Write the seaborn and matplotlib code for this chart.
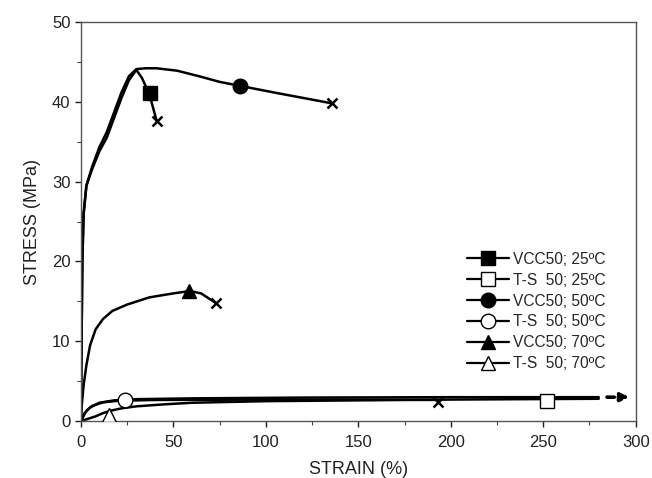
import matplotlib
matplotlib.use("Agg")
import matplotlib.pyplot as plt
from matplotlib.lines import Line2D
from matplotlib.ticker import MultipleLocator
import seaborn as sns
import pandas as pd

# ---- data ----
vcc25_strain = [0, 0.4, 0.8, 1.5, 3, 6, 10, 14, 18, 22, 26, 30, 33, 37, 41]
vcc25_stress = [0, 10, 20, 26, 29.5, 31.5, 33.8, 35.5, 38, 40.5, 42.7, 44, 43, 41, 37.6]

vcc50_strain = [0, 0.4, 0.8, 1.5, 3, 6, 10, 14, 18, 22, 26, 30, 35, 41, 52, 64, 75, 86, 106, 136]
vcc50_stress = [0, 10, 20, 26, 29.5, 31.8, 34.3, 36.2, 38.7, 41.2, 43.2, 44.1, 44.2, 44.2, 43.9, 43.2, 42.5, 42, 41.1, 39.8]

vcc70_strain = [0, 0.5, 1.5, 3, 5, 8, 12, 17, 25, 37, 50, 59, 65, 73]
vcc70_stress = [0, 2, 4.5, 7, 9.5, 11.5, 12.8, 13.8, 14.6, 15.5, 16, 16.3, 16, 14.8]

ts25_strain = [0, 2, 5, 10, 18, 30, 60, 120, 200, 280]
ts25_stress = [0, 1.0, 1.7, 2.3, 2.6, 2.75, 2.85, 2.95, 3.0, 3.0]

ts50_strain = [0, 3, 6, 12, 20, 40, 100, 160, 193]
ts50_stress = [0, 1.3, 1.9, 2.35, 2.55, 2.65, 2.7, 2.7, 2.65]

ts70_strain = [0, 4, 8, 12, 16, 22, 30, 45, 60, 100, 200, 280]
ts70_stress = [0, 0.3, 0.6, 1.0, 1.3, 1.6, 1.85, 2.1, 2.3, 2.5, 2.7, 2.8]

labels = ["VCC50; 25\u00baC", "T-S  50; 25\u00baC", "VCC50; 50\u00baC",
          "T-S  50; 50\u00baC", "VCC50; 70\u00baC", "T-S  50; 70\u00baC"]
label_marker_strain = [37.3, 252, 86, 24, 58.5, 15]
label_marker_stress = [41.1, 2.5, 42, 2.6, 16.3, 0.8]

break_strain = [41, 136, 73, 193]
break_stress = [37.6, 39.8, 14.8, 2.4]

arrow_start = (283, 3.0)
arrow_end = (298, 3.0)

x_ticks = [0, 50, 100, 150, 200, 250, 300]
y_ticks = [0, 10, 20, 30, 40, 50]

# ---- style ----
sns.set_style("ticks")
plt.rcParams["font.family"] = ["Liberation Sans", "DejaVu Sans"]

fig = plt.figure(figsize=(6.52, 4.78), dpi=100)
ax = fig.add_axes([0.124, 0.119, 0.851, 0.835])

curves = [(vcc25_strain, vcc25_stress), (ts25_strain, ts25_stress),
          (vcc50_strain, vcc50_stress), (ts50_strain, ts50_stress),
          (vcc70_strain, vcc70_stress), (ts70_strain, ts70_stress)]
for s, st in curves:
    df = pd.DataFrame({"strain": s, "stress": st})
    sns.lineplot(data=df, x="strain", y="stress", ax=ax, color="black",
                 linewidth=1.8, sort=False, estimator=None)

markers = ["s", "s", "o", "o", "^", "^"]
fills = ["black", "white", "black", "white", "black", "white"]
for i in range(6):
    ax.plot([label_marker_strain[i]], [label_marker_stress[i]], linestyle="none",
            marker=markers[i], markersize=10.5, markerfacecolor=fills[i],
            markeredgecolor="black", markeredgewidth=1.0, zorder=5)

ax.plot(break_strain, break_stress, linestyle="none", marker="x",
        markersize=7.5, markeredgewidth=1.8, color="black", zorder=5)

ax.annotate("", xy=arrow_end, xytext=arrow_start,
            arrowprops=dict(arrowstyle="-|>", color="black", lw=2.6,
                            linestyle=(0, (2, 1.2)), mutation_scale=12))

ax.set_xlim(0, 300)
ax.set_ylim(0, 50)
ax.set_xticks(x_ticks)
ax.set_yticks(y_ticks)
ax.xaxis.set_minor_locator(MultipleLocator(25))
ax.yaxis.set_minor_locator(MultipleLocator(5))
ax.tick_params(which="major", direction="out", length=4, width=1, labelsize=12,
               colors="#222222")
ax.tick_params(axis="x", which="major", pad=6)
ax.tick_params(which="minor", direction="out", length=3, width=0.8, colors="#444444")
for sp in ax.spines.values():
    sp.set_visible(True)
    sp.set_color("#555555")
    sp.set_linewidth(1.0)

ax.set_xlabel("STRAIN (%)", fontsize=13, color="#222222", labelpad=8)
ax.set_ylabel("STRESS (MPa)", fontsize=13, color="#222222", labelpad=8)

handles = [Line2D([0], [0], color="black", lw=1.6, marker=markers[i],
                  markersize=10.5, markerfacecolor=fills[i], markeredgecolor="black")
           for i in range(6)]
ax.legend(handles, labels, loc="upper left", bbox_to_anchor=(0.685, 0.44),
          frameon=False, fontsize=11.2, handlelength=2.7, handletextpad=0.25,
          labelspacing=0.38, borderaxespad=0)

fig.savefig("out.png", dpi=100)
